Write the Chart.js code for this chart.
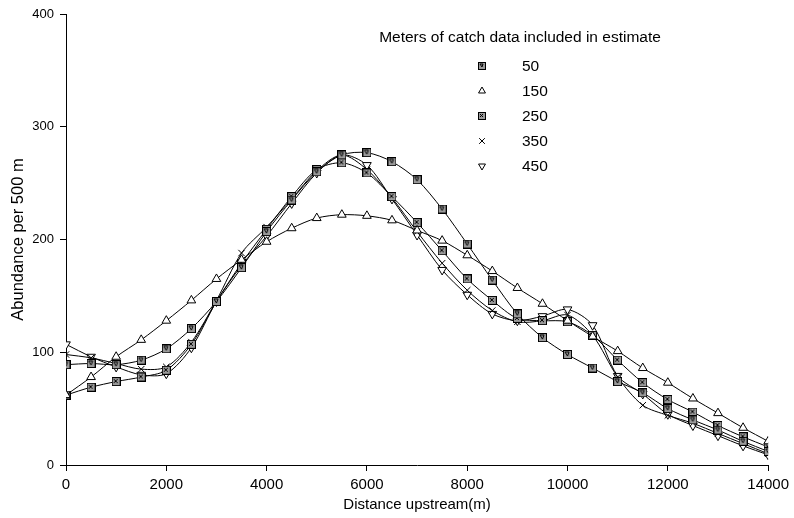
<!DOCTYPE html>
<html>
<head>
<meta charset="utf-8">
<script src="https://cdn.jsdelivr.net/npm/chart.js@4/dist/chart.umd.min.js"></script>
<style>
  body { margin: 0; background: #fff; }
  #wrap { width: 794px; height: 518px; }
</style>
</head>
<body>
<div id="wrap"><canvas id="abundance-chart" width="794" height="518"></canvas></div>
<script>
// distance upstream (m), every 500 m
const distances = [0, 500, 1000, 1500, 2000, 2500, 3000, 3500, 4000, 4500, 5000, 5500, 6000, 6500, 7000,
    7500, 8000, 8500, 9000, 9500, 10000, 10500, 11000, 11500, 12000, 12500, 13000, 13500, 14000];

const legendTitle = 'Meters of catch data included in estimate';
const seriesLabels = ['50', '150', '250', '350', '450'];

const abundance50 = [89, 90, 89, 93, 103, 121, 145, 175, 207, 235, 260, 275, 277, 269, 253,
    227, 196, 164, 134, 113, 98, 86, 74, 64, 50, 40, 31, 21, 12];
const abundance150 = [62, 78, 96, 111, 128, 146, 165, 182, 198, 210, 219, 222, 221, 217, 208,
    199, 186, 172, 157, 143, 128, 114, 101, 86, 73, 59, 46, 33, 21];
const abundance250 = [62, 69, 74, 78, 84, 107, 145, 179, 209, 238, 262, 268, 259, 238, 215,
    190, 165, 146, 130, 128, 127, 115, 93, 73, 58, 47, 35, 25, 16];
const abundance350 = [98, 95, 90, 85, 87, 109, 146, 188, 211, 236, 261, 275, 262, 237, 207,
    179, 155, 137, 127, 128, 133, 115, 78, 53, 44, 37, 28, 19, 10];
const abundance450 = [107, 96, 87, 80, 81, 104, 145, 177, 203, 232, 259, 275, 266, 236, 204,
    173, 151, 134, 128, 132, 138, 124, 79, 63, 45, 35, 26, 17, 9];

const FONT = '"Liberation Sans", Arial, sans-serif';

// little marker images: grey square with a tick or a cross inside
function squareMarker(kind, size) {
    const c = document.createElement('canvas');
    c.width = size + 1; c.height = size + 1;
    const g = c.getContext('2d');
    const e = size - 2;
    g.fillStyle = '#9a9a9a';
    g.fillRect(0.5, 0.5, size, size);
    g.strokeStyle = '#000';
    g.lineWidth = 1;
    g.strokeRect(0.5, 0.5, size, size);
    g.beginPath();
    if (kind === 'x') {
        g.moveTo(2, 2); g.lineTo(e, e);
        g.moveTo(e, 2); g.lineTo(2, e);
    } else {
        g.moveTo(2, 2); g.lineTo(size / 2 + 0.5, e); g.lineTo(e, 2);
        g.moveTo(2, 2); g.lineTo(e, 2);
    }
    g.stroke();
    return c;
}

const markerCheck = squareMarker('check', 8);
const markerCross = squareMarker('x', 8);
const legendCheck = squareMarker('check', 7);
const legendCross = squareMarker('x', 7);

function toPoints(values) {
    return values.map((v, i) => ({ x: distances[i], y: v }));
}

function makeSet(label, values, style, rotation, radius, legendStyle) {
    return {
        label: label,
        data: toPoints(values),
        borderColor: '#000',
        borderWidth: 1,
        backgroundColor: '#fff',
        pointBorderColor: '#000',
        pointBackgroundColor: '#fff',
        pointBorderWidth: 1,
        pointStyle: style,
        pointRotation: rotation,
        pointRadius: radius,
        pointHoverRadius: radius,
        legendStyle: legendStyle,
        tension: 0.3,
        fill: false
    };
}

const datasets = [
    makeSet(seriesLabels[0], abundance50, markerCheck, 0, 4, legendCheck),
    makeSet(seriesLabels[1], abundance150, 'triangle', 0, 5, 'triangle'),
    makeSet(seriesLabels[2], abundance250, markerCross, 0, 4, legendCross),
    makeSet(seriesLabels[3], abundance350, 'crossRot', 0, 4.5, 'crossRot'),
    makeSet(seriesLabels[4], abundance450, 'triangle', 180, 5, 'triangle')
];

// legend drawn inside the plot, like the original
const legendPlugin = {
    id: 'insideLegend',
    afterDraw(chart) {
        const ctx = chart.ctx;
        ctx.save();
        ctx.font = '15.5px ' + FONT;
        ctx.textBaseline = 'middle';
        ctx.textAlign = 'center';
        ctx.fillStyle = '#000';
        ctx.fillText(legendTitle, 520, 38);
        chart.data.datasets.forEach((ds, i) => {
            const y = 66 + i * 25;
            ctx.fillStyle = '#fff';
            ctx.strokeStyle = '#000';
            ctx.lineWidth = 1;
            Chart.helpers.drawPoint(ctx, {
                pointStyle: ds.legendStyle,
                rotation: ds.pointRotation,
                radius: 4,
                borderWidth: 1
            }, 482, y);
            ctx.fillStyle = '#000';
            ctx.textAlign = 'left';
            ctx.fillText(ds.label, 522, y + 1);
        });
        ctx.restore();
    }
};

const chartContext = document.getElementById('abundance-chart').getContext('2d');
const abundanceChart = new Chart(chartContext, {
    type: 'line',
    data: { datasets: datasets },
    options: {
        responsive: false,
        animation: false,
        layout: { padding: { top: 14, right: 22, left: 0, bottom: 0 } },
        plugins: {
            legend: { display: false },
            tooltip: { enabled: false }
        },
        scales: {
            x: {
                type: 'linear',
                min: 0,
                max: 14000,
                border: { color: '#000', width: 1 },
                grid: { drawOnChartArea: false, drawTicks: true, tickLength: 6, color: '#000' },
                ticks: {
                    stepSize: 2000,
                    color: '#000',
                    font: { family: FONT, size: 15 },
                    padding: 5,
                    maxRotation: 0,
                    callback: value => String(value)
                },
                title: {
                    display: true,
                    text: 'Distance upstream(m)',
                    color: '#000',
                    font: { family: FONT, size: 15 },
                    padding: { top: 4, bottom: 4 }
                },
                afterFit(scale) { scale.height = 53; }
            },
            y: {
                min: 0,
                max: 400,
                border: { color: '#000', width: 1 },
                grid: { drawOnChartArea: false, drawTicks: true, tickLength: 6, color: '#000' },
                ticks: {
                    stepSize: 100,
                    color: '#000',
                    font: { family: FONT, size: 13 },
                    padding: 6
                },
                title: {
                    display: true,
                    text: 'Abundance per 500 m',
                    color: '#000',
                    font: { family: FONT, size: 16.5 },
                    padding: { top: 9, bottom: 4 }
                },
                afterFit(scale) { scale.width = 66; }
            }
        }
    },
    plugins: [legendPlugin]
});
</script>
</body>
</html>
